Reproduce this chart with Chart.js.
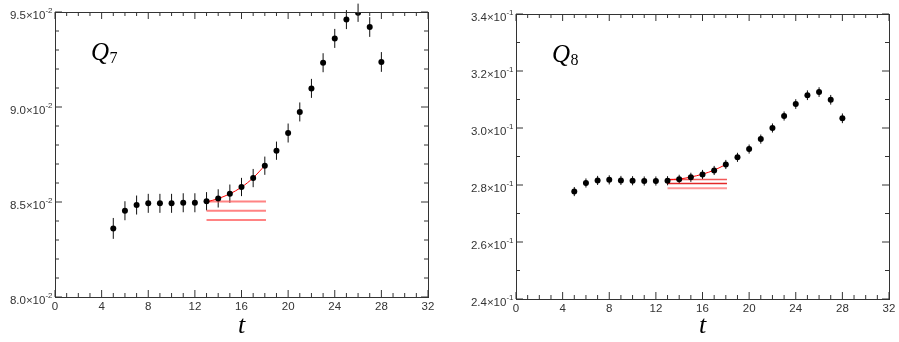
<!DOCTYPE html>
<html lang="en">
<head>
    <meta charset="UTF-8">
    <title>Q7 and Q8 versus t</title>
    <script src="https://cdn.jsdelivr.net/npm/chart.js"></script>
    <style>
        body {
            margin: 0;
            background: #fff;
        }
        #wrap {
            position: relative;
            width: 899px;
            height: 342px;
        }
        canvas {
            position: absolute;
            top: 0;
        }
        #c7 { left: 0; }
        #c8 { left: 450px; }
    </style>
</head>
<body>
<div id="wrap">
    <canvas id="c7" width="450" height="342" style="width:450px;height:342px"></canvas>
    <canvas id="c8" width="449" height="342" style="width:449px;height:342px"></canvas>
</div>

<script>
    // t values shared by both panels
    const tValues = [5, 6, 7, 8, 9, 10, 11, 12, 13, 14, 15, 16, 17, 18, 19, 20, 21, 22, 23, 24, 25, 26, 27, 28];

    const q7Values = [0.08361, 0.08454, 0.08484, 0.08493, 0.08493, 0.08493, 0.08496, 0.08496, 0.08504, 0.08519,
        0.08544, 0.08579, 0.08626, 0.08691, 0.08770, 0.08863, 0.08974, 0.09098, 0.09233, 0.09361,
        0.09460, 0.09496, 0.09421, 0.09237];
    const q7Errors = [0.00055, 0.0005, 0.0005, 0.0005, 0.0005, 0.0005, 0.0005, 0.0005, 0.00048, 0.00048,
        0.00048, 0.00048, 0.00048, 0.00048, 0.00048, 0.0005, 0.0005, 0.0005, 0.0005, 0.0005,
        0.0005, 0.00048, 0.00052, 0.00052];

    const q8Values = [0.2777, 0.2807, 0.2816, 0.2818, 0.2816, 0.2815, 0.2814, 0.2814, 0.2815, 0.2820,
        0.2827, 0.2837, 0.2851, 0.2872, 0.2897, 0.2926, 0.2961, 0.3000, 0.3042, 0.3084,
        0.3115, 0.3126, 0.3099, 0.3034];
    const q8Errors = [0.0016, 0.0016, 0.0016, 0.0016, 0.0016, 0.0016, 0.0016, 0.0016, 0.0016, 0.0016,
        0.0016, 0.0016, 0.0016, 0.0016, 0.0016, 0.0016, 0.0016, 0.0016, 0.0016, 0.0017,
        0.0017, 0.0017, 0.0017, 0.0017];

    // fit curves
    const fitT = [13, 14, 15, 16, 17, 18];
    const q7Fit = [0.08500, 0.08518, 0.08543, 0.08578, 0.08627, 0.08692];
    const q8Fit = [0.2818, 0.2821, 0.2828, 0.2838, 0.2852, 0.2872];

    // plateau lines
    const plateauT = [13, 18.1];
    const q7Plateau = [0.08502, 0.08454, 0.08405];
    const q8Plateau = [0.2819, 0.2805, 0.2789];

    const xTickValues = [0, 4, 8, 12, 16, 20, 24, 28, 32];
    const q7YTicks = [0.080, 0.085, 0.090, 0.095];
    const q8YTicks = [0.24, 0.26, 0.28, 0.30, 0.32, 0.34];

    const labelFont = '"Liberation Sans", Arial, sans-serif';
    const serifFont = '"Liberation Serif", "Times New Roman", serif';

    const panelPlugin = {
        id: 'panel',
        beforeDatasetsDraw(chart, args, opts) {
            const ctx = chart.ctx;
            const xs = chart.scales.x, ys = chart.scales.y;
            ctx.save();
            ctx.strokeStyle = '#111';
            ctx.lineWidth = 1;
            opts.values.forEach((v, i) => {
                const px = xs.getPixelForValue(opts.t[i]);
                ctx.beginPath();
                ctx.moveTo(px, ys.getPixelForValue(v - opts.errors[i]));
                ctx.lineTo(px, ys.getPixelForValue(v + opts.errors[i]));
                ctx.stroke();
            });
            ctx.restore();
        },
        afterDraw(chart, args, opts) {
            const ctx = chart.ctx;
            const area = chart.chartArea;
            const xs = chart.scales.x, ys = chart.scales.y;
            ctx.save();
            ctx.strokeStyle = '#333';
            ctx.lineWidth = 1;
            ctx.strokeRect(Math.round(area.left) + 0.5, Math.round(area.top) + 0.5,
                Math.round(area.right - area.left), Math.round(area.bottom - area.top));

            // x ticks, top and bottom, pointing inward
            ctx.beginPath();
            for (let k = 0; k <= 32; k++) {
                const px = xs.getPixelForValue(k);
                const len = k % 4 === 0 ? 7 : 4;
                ctx.moveTo(px, area.bottom);
                ctx.lineTo(px, area.bottom - len);
                ctx.moveTo(px, area.top);
                ctx.lineTo(px, area.top + len);
            }
            // y ticks, left and right
            const nMinor = Math.round((opts.yMax - opts.yMin) / opts.minorStep);
            const perMajor = Math.round(opts.majorStep / opts.minorStep);
            for (let k = 0; k <= nMinor; k++) {
                const py = ys.getPixelForValue(opts.yMin + k * opts.minorStep);
                const len = k % perMajor === 0 ? 7 : 4;
                ctx.moveTo(area.left, py);
                ctx.lineTo(area.left + len, py);
                ctx.moveTo(area.right, py);
                ctx.lineTo(area.right - len, py);
            }
            ctx.stroke();

            // y tick labels  m.m x 10^e
            ctx.fillStyle = '#333';
            ctx.textBaseline = 'middle';
            opts.yTicks.forEach(v => {
                const py = ys.getPixelForValue(v);
                const mant = (v / Math.pow(10, opts.exp)).toFixed(1);
                ctx.font = '8px ' + labelFont;
                const supW = ctx.measureText(String(opts.exp)).width;
                const xEnd = area.left - 2.5;
                ctx.textAlign = 'left';
                ctx.fillText(String(opts.exp), xEnd - supW, py - 1.5);
                ctx.font = '11.5px ' + labelFont;
                ctx.textAlign = 'right';
                ctx.fillText(mant + '\u00d710', xEnd - supW, py + 3.5);
            });

            // panel label Q_n
            ctx.fillStyle = '#000';
            ctx.textAlign = 'left';
            ctx.textBaseline = 'alphabetic';
            ctx.font = 'italic 25px ' + serifFont;
            const qx = area.left + 36, qy = area.top + 48;
            ctx.fillText('Q', qx, qy);
            const qw = ctx.measureText('Q').width;
            ctx.font = '16px ' + serifFont;
            ctx.fillText(opts.sub, qx + qw + 0.5, qy + 3);
            ctx.restore();
        }
    };

    function makeChart(id, cfg) {
        const datasets = [{
            type: 'scatter',
            data: tValues.map((t, i) => ({x: t, y: cfg.values[i]})),
            pointRadius: 3,
            pointHoverRadius: 3,
            pointBackgroundColor: '#000',
            pointBorderWidth: 0,
            showLine: false
        }, {
            type: 'line',
            data: fitT.map((t, i) => ({x: t, y: cfg.fit[i]})),
            borderColor: '#ff0000',
            borderWidth: 1,
            pointRadius: 0,
            cubicInterpolationMode: 'monotone',
            showLine: true,
            fill: false
        }];
        cfg.plateau.forEach((v, i) => {
            datasets.push({
                type: 'line',
                data: plateauT.map(t => ({x: t, y: v})),
                borderColor: cfg.plateauColors[i],
                borderWidth: cfg.plateauWidths[i],
                pointRadius: 0,
                showLine: true,
                fill: false
            });
        });

        return new Chart(document.getElementById(id).getContext('2d'), {
            type: 'scatter',
            data: {datasets: datasets},
            plugins: [panelPlugin],
            options: {
                responsive: false,
                animation: false,
                events: [],
                layout: {padding: {top: cfg.top, right: cfg.right, left: 0, bottom: 0}},
                plugins: {
                    legend: {display: false},
                    tooltip: {enabled: false},
                    panel: {
                        t: tValues,
                        values: cfg.values,
                        errors: cfg.errors,
                        yTicks: cfg.yTicks,
                        exp: cfg.exp,
                        yMin: cfg.yMin,
                        yMax: cfg.yMax,
                        majorStep: cfg.majorStep,
                        minorStep: cfg.minorStep,
                        sub: cfg.sub
                    }
                },
                scales: {
                    x: {
                        type: 'linear',
                        min: 0,
                        max: 32,
                        afterBuildTicks: s => { s.ticks = xTickValues.map(v => ({value: v})); },
                        afterFit: s => { s.height = 342 - cfg.bottom; },
                        grid: {display: false, drawTicks: false},
                        border: {display: false},
                        ticks: {
                            padding: 3,
                            color: '#333',
                            font: {family: labelFont, size: 11.5},
                            maxRotation: 0
                        },
                        title: {
                            display: true,
                            text: 't',
                            color: '#000',
                            padding: {top: 0, bottom: 0},
                            font: {family: serifFont, size: 26, style: 'italic'}
                        }
                    },
                    y: {
                        type: 'linear',
                        min: cfg.yMin,
                        max: cfg.yMax,
                        afterFit: s => { s.width = cfg.left; },
                        grid: {display: false, drawTicks: false},
                        border: {display: false},
                        ticks: {display: false}
                    }
                }
            }
        });
    }

    makeChart('c7', {
        values: q7Values, errors: q7Errors, fit: q7Fit, plateau: q7Plateau,
        plateauColors: ['rgba(255,90,90,0.75)', 'rgba(255,90,90,0.75)', 'rgba(255,90,90,0.75)'],
        plateauWidths: [2, 2, 2],
        yTicks: q7YTicks, exp: -2, yMin: 0.080, yMax: 0.095, majorStep: 0.005, minorStep: 0.001,
        sub: '7', left: 55, right: 22, top: 12, bottom: 297
    });

    makeChart('c8', {
        values: q8Values, errors: q8Errors, fit: q8Fit, plateau: q8Plateau,
        plateauColors: ['rgba(240,60,60,0.85)', 'rgba(225,30,30,0.95)', 'rgba(255,110,110,0.7)'],
        plateauWidths: [1.5, 1.5, 2],
        yTicks: q8YTicks, exp: -1, yMin: 0.24, yMax: 0.34, majorStep: 0.02, minorStep: 0.01,
        sub: '8', left: 66, right: 10, top: 14, bottom: 299
    });
</script>
</body>
</html>
